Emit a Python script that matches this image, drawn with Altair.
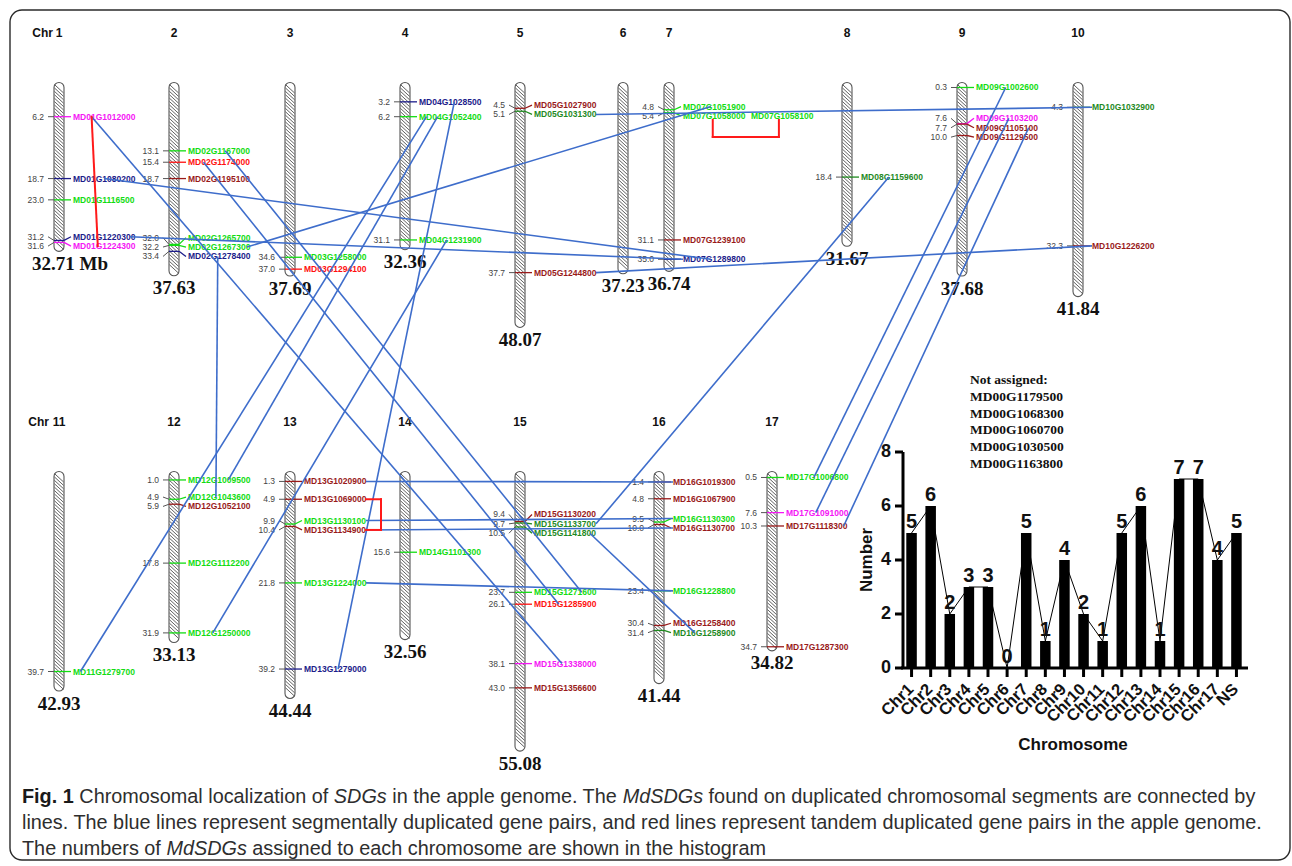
import altair as alt
import numpy as np
import pandas as pd

# ---------------- data ----------------
chrom_num = list(range(1, 18))
chrom_len = [32.71, 37.63, 37.69, 32.36, 48.07, 37.23, 36.74, 31.67, 37.68, 41.84,
             42.93, 33.13, 44.44, 32.56, 55.08, 41.44, 34.82]

gene_chr = [1, 1, 1, 1, 1,
            2, 2, 2, 2, 2, 2,
            3, 3,
            4, 4, 4,
            5, 5, 5,
            7, 7, 7, 7, 7,
            8,
            9, 9, 9, 9,
            10, 10,
            11,
            12, 12, 12, 12, 12,
            13, 13, 13, 13, 13, 13,
            14,
            15, 15, 15, 15, 15, 15, 15,
            16, 16, 16, 16, 16, 16, 16,
            17, 17, 17, 17]
gene_mb = [6.2, 18.7, 23.0, 31.2, 31.6,
           13.1, 15.4, 18.7, 32.0, 32.2, 33.4,
           34.6, 37.0,
           3.2, 6.2, 31.1,
           4.5, 5.1, 37.7,
           4.8, 5.4, 5.4, 31.1, 35.0,
           18.4,
           0.3, 7.6, 7.7, 10.0,
           4.3, 32.3,
           39.7,
           1.0, 4.9, 5.9, 17.8, 31.9,
           1.3, 4.9, 9.9, 10.4, 21.8, 39.2,
           15.6,
           9.4, 9.7, 10.5, 23.7, 26.1, 38.1, 43.0,
           1.4, 4.8, 9.5, 10.0, 23.4, 30.4, 31.4,
           0.5, 7.6, 10.3, 34.7]
gene_id = ["MD01G1012000", "MD01G1080200", "MD01G1116500", "MD01G1220300", "MD01G1224300",
           "MD02G1167000", "MD02G1174000", "MD02G1195100", "MD02G1265700", "MD02G1267300", "MD02G1278400",
           "MD03G1258000", "MD03G1294100",
           "MD04G1028500", "MD04G1052400", "MD04G1231900",
           "MD05G1027900", "MD05G1031300", "MD05G1244800",
           "MD07G1051900", "MD07G1058000", "MD07G1058100", "MD07G1239100", "MD07G1289800",
           "MD08G1159600",
           "MD09G1002600", "MD09G1103200", "MD09G1105100", "MD09G1129500",
           "MD10G1032900", "MD10G1226200",
           "MD11G1279700",
           "MD12G1009500", "MD12G1043600", "MD12G1052100", "MD12G1112200", "MD12G1250000",
           "MD13G1020900", "MD13G1069000", "MD13G1130100", "MD13G1134900", "MD13G1224000", "MD13G1279000",
           "MD14G1101300",
           "MD15G1130200", "MD15G1133700", "MD15G1141800", "MD15G1271600", "MD15G1285900", "MD15G1338000", "MD15G1356600",
           "MD16G1019300", "MD16G1067900", "MD16G1130300", "MD16G1130700", "MD16G1228800", "MD16G1258400", "MD16G1258900",
           "MD17G1006800", "MD17G1091000", "MD17G1118300", "MD17G1287300"]
gene_group = ["m", "n", "g", "n", "m",
              "g", "r", "dr", "g", "g", "n",
              "g", "r",
              "n", "g", "g",
              "dr", "dg", "dr",
              "g", "g", "g", "dr", "n",
              "dg",
              "g", "m", "dr", "dr",
              "dg", "dr",
              "g",
              "g", "g", "dr", "g", "g",
              "dr", "dr", "g", "dr", "g", "n",
              "g",
              "dr", "dg", "dg", "g", "r", "m", "dr",
              "dr", "dr", "g", "dr", "g", "dr", "dg",
              "g", "m", "dr", "dr"]

# segmental duplication pairs (blue) and tandem pairs (red)
seg_a = ["MD01G1012000", "MD01G1080200", "MD01G1220300", "MD02G1267300", "MD05G1031300",
         "MD05G1244800", "MD04G1028500", "MD04G1052400", "MD04G1052400", "MD04G1231900",
         "MD02G1278400", "MD02G1174000", "MD02G1167000", "MD13G1020900", "MD13G1130100",
         "MD13G1134900", "MD13G1224000", "MD15G1133700", "MD15G1141800", "MD09G1002600",
         "MD09G1103200", "MD09G1105100"]
seg_b = ["MD15G1338000", "MD07G1289800", "MD07G1289800", "MD07G1051900", "MD10G1032900",
         "MD10G1226200", "MD13G1279000", "MD11G1279700", "MD12G1009500", "MD12G1250000",
         "MD12G1043600", "MD15G1285900", "MD15G1271600", "MD16G1019300", "MD16G1130300",
         "MD16G1130700", "MD16G1228800", "MD08G1159600", "MD16G1258900", "MD17G1006800",
         "MD17G1091000", "MD17G1118300"]
tandem_a = ["MD01G1012000", "MD07G1058000", "MD13G1069000"]
tandem_b = ["MD01G1224300", "MD07G1058100", "MD13G1134900"]

hist_cat = ["Chr1", "Chr2", "Chr3", "Chr4", "Chr5", "Chr6", "Chr7", "Chr8", "Chr9",
            "Chr10", "Chr11", "Chr12", "Chr13", "Chr14", "Chr15", "Chr16", "Chr17", "NS"]
hist_count = [5, 6, 2, 3, 3, 0, 5, 1, 4, 2, 1, 5, 6, 1, 7, 7, 4, 5]
unassigned_title = "Not assigned:"
unassigned = ["MD00G1179500", "MD00G1068300", "MD00G1060700", "MD00G1030500", "MD00G1163800"]

# caption: (text, style) runs per line
caption_lines = [
    [("Fig. 1", "b"), (" Chromosomal localization of ", "n"), ("SDGs", "i"),
     (" in the apple genome. The ", "n"), ("MdSDGs", "i"),
     (" found on duplicated chromosomal segments are connected by", "n")],
    [("lines. The blue lines represent segmentally duplicated gene pairs, and red lines represent "
      "tandem duplicated gene pairs in the apple genome.", "n")],
    [("The numbers of ", "n"), ("MdSDGs", "i"), (" assigned to each chromosome are shown in the histogram", "n")],
]

# ---------------- layout / style ----------------
W, H = 1292, 866
col_x = [59, 174, 290, 405, 520, 623, 669, 847, 962, 1078, 59, 174, 290, 405, 520, 659, 772]
PXMB = 4.95
ROW1_PX, ROW2_PX = 86, 475


def py(p):
    return (p - ROW1_PX) / PXMB


def dpx(d):
    return d / PXMB


row_off = [0.0 if c <= 10 else py(ROW2_PX) for c in chrom_num]
seg_frac_a = [0.3, 0.5, 0.92, 0.95, 1.0, 1.0, 0.57, 0.12, 0.3, 0.45, 0.48, 0.25, 0.6,
              1.0, 1.0, 1.0, 1.0, 1.0, 0.9, 0.48, 0.53, 0.85]
seg_frac_b = [0.45, 0.45, 0.0, 0.45, 0.0, 0.0, 0.55, 0.12, 0.65, 0.4, 0.45, 0.4, 0.77,
              0.0, 0.0, 0.0, 0.0, 0.45, 0.35, 0.45, 0.48, 0.93]
tandem_style = ["line", "below", "right"]
LABEL_W = 62
SLOT_W = 68
GAP = 1.9

col = {
    "g": "#12dc12", "dg": "#1f8a1f", "r": "#ff1010", "dr": "#991a1a",
    "n": "#1c1c8a", "m": "#f516f5",
}
BLUE = "#3e6dcb"
RED = "#ff1a1a"
SANS = "Liberation Sans"
SERIF = "Liberation Serif"

XS = alt.Scale(domain=[0, W], nice=False, zero=False)
YS = alt.Scale(domain=[py(0), py(H)], reverse=True, nice=False, zero=False)


def X(f):
    return alt.X(f, type="quantitative", scale=XS, axis=None)


def Y(f):
    return alt.Y(f, type="quantitative", scale=YS, axis=None)


# Arial / Liberation Sans advance widths (1/1000 em) for caption run placement
_w = {" ": 278, ".": 278, ",": 278, ":": 278, "-": 333}
_w.update({d: 556 for d in "0123456789"})
_w.update(dict(zip("abcdefghijklmnopqrstuvwxyz",
                   [556, 556, 500, 556, 556, 278, 556, 556, 222, 222, 500, 222, 833, 556, 556, 556, 556,
                    333, 500, 278, 556, 500, 722, 500, 500, 500])))
_w.update(dict(zip("ABCDEFGHIJKLMNOPQRSTUVWXYZ",
                   [667, 667, 722, 722, 667, 611, 778, 722, 278, 500, 667, 556, 833, 722, 778, 667, 778,
                    722, 667, 611, 722, 667, 944, 667, 667, 611])))
_wb = dict(_w)
_wb.update({"g": 611, "i": 278})


def em(s, bold=False):
    t = _wb if bold else _w
    return sum(t.get(ch_, 556) for ch_ in s) / 1000.0


CAP_X0, CAP_X1 = 22, 1262
CAP_Y = [797, 823, 849]
CAP_SIZE = (CAP_X1 - CAP_X0) / em(caption_lines[1][0][0])

cap_rows = []
for line, yy in zip(caption_lines, CAP_Y):
    xx = CAP_X0
    for txt, st in line:
        lead = len(txt) - len(txt.lstrip(" "))
        xx += em(" " * lead) * CAP_SIZE
        body = txt.strip(" ")
        cap_rows.append({"t": body, "x": xx, "y": py(yy), "style": st})
        xx += em(body, st == "b") * CAP_SIZE
        trail = len(txt) - len(txt.rstrip(" "))
        xx += em(" " * trail) * CAP_SIZE
cap = pd.DataFrame(cap_rows)

# ---------------- gene table with label placement ----------------
g = pd.DataFrame({"chr": gene_chr, "mb": gene_mb, "name": gene_id, "grp": gene_group})
g["cx"] = [col_x[c - 1] for c in g["chr"]]
g["off"] = [row_off[c - 1] for c in g["chr"]]
g["y"] = g["off"] + g["mb"]


def place(cl):
    m = np.mean(cl)
    n = len(cl)
    return [m + (i - (n - 1) / 2) * GAP for i in range(n)]


label_mb = {}
for c in chrom_num:
    rows = sorted(set(g.loc[g["chr"] == c, "mb"]))
    clusters = []
    for p in rows:
        clusters.append([p])
        while len(clusters) > 1:
            a, b = clusters[-2], clusters[-1]
            if place(a)[-1] + GAP > place(b)[0]:
                clusters[-2:] = [a + b]
            else:
                break
    for cl in clusters:
        for p, lp in zip(cl, place(cl)):
            label_mb[(c, p)] = lp

g["ly"] = [row_off[c - 1] + label_mb[(c, m)] for c, m in zip(g["chr"], g["mb"])]
slot = []
for i in range(len(g)):
    if i > 0 and g.loc[i, "chr"] == g.loc[i - 1, "chr"] and g.loc[i, "mb"] == g.loc[i - 1, "mb"]:
        slot.append(slot[-1] + 1)
    else:
        slot.append(0)
g["slot"] = slot
g["lx"] = g["cx"] + 14 + g["slot"] * SLOT_W
g["num"] = [f"{v:.1f}" for v in g["mb"]]
g0 = g[g["slot"] == 0].copy()
g0["nx"] = g0["cx"] - 15
g0["a1"] = g0["cx"] - 11
g0["a2"] = g0["cx"] - 5
g0["b1"] = g0["cx"] + 5
g0["b2"] = g0["cx"] + 12
gi = g.set_index("name")

# ---------------- chromosome bodies ----------------
ch = pd.DataFrame({"c": chrom_num, "L": chrom_len, "cx": col_x, "off": row_off})
ch["x0"] = ch["cx"] - 5
ch["x1"] = ch["cx"] + 5
ch["top"] = ch["off"] - dpx(3.5)
ch["bot"] = ch["off"] + ch["L"] + dpx(3.5)
ch["lab"] = [f"{L:.2f}" + (" Mb" if c == 1 else "") for c, L in zip(ch["c"], ch["L"])]
ch["labx"] = ch["cx"] + np.where(ch["c"] == 1, 11, 0)
ch["laby"] = ch["off"] + ch["L"] + dpx(16)
ch["num"] = [str(c) for c in ch["c"]]
ch["hy"] = ch["off"] + py(33)
hdr = ch[ch["c"].isin([1, 11])].copy()
hdr["hx"] = hdr["cx"] - np.where(hdr["c"] == 1, 6, 10)
hdr["t"] = "Chr"

hatch_rows = []
for c, L, cx, off in zip(chrom_num, chrom_len, col_x, row_off):
    for t in np.arange(-0.3, L - dpx(8) + 0.4, dpx(3.4)):
        hatch_rows.append({"x1": cx - 4.6, "x2": cx + 4.6, "y1": off + t, "y2": off + t + dpx(8.5)})
hatch = pd.DataFrame(hatch_rows)

# ---------------- links ----------------
links = []
for a, b, fa, fb in zip(seg_a, seg_b, seg_frac_a, seg_frac_b):
    ra, rb = gi.loc[a], gi.loc[b]
    links.append({"x1": ra["lx"] + fa * LABEL_W, "y1": ra["ly"], "x2": rb["lx"] + fb * LABEL_W, "y2": rb["ly"]})
links = pd.DataFrame(links)

tsegs = []
for a, b, s in zip(tandem_a, tandem_b, tandem_style):
    ra, rb = gi.loc[a], gi.loc[b]
    if s == "line":
        tsegs.append((ra["lx"] + 0.3 * LABEL_W, ra["ly"], rb["lx"] + 0.4 * LABEL_W, rb["ly"]))
    elif s == "below":
        xa, xb = ra["lx"] + 0.48 * LABEL_W, rb["lx"] + 0.45 * LABEL_W
        y1, y2 = ra["ly"] + dpx(4), ra["ly"] + dpx(21)
        tsegs += [(xa, y1, xa, y2), (xa, y2, xb, y2), (xb, y2, xb, y1)]
    else:
        xa, xb = ra["lx"] + LABEL_W, rb["lx"] + LABEL_W
        xr = xa + 15
        tsegs += [(xa, ra["ly"], xr, ra["ly"]), (xr, ra["ly"], xr, rb["ly"]), (xr, rb["ly"], xb, rb["ly"])]
tsegs = pd.DataFrame(tsegs, columns=["x1", "y1", "x2", "y2"])

gcolor = alt.Color("grp:N", scale=alt.Scale(domain=list(col.keys()), range=list(col.values())), legend=None)

layers = []
# border
layers.append(alt.Chart(pd.DataFrame({"x1": [10], "x2": [1290], "y1": [py(10)], "y2": [py(860)]}))
              .mark_rect(fillOpacity=0, stroke="#2a2a2a", strokeWidth=1.4, cornerRadius=12)
              .encode(x=X("x1"), x2="x2", y=Y("y1"), y2="y2"))
# chromosomes
layers.append(alt.Chart(ch).mark_rect(fill="white", cornerRadius=5)
              .encode(x=X("x0"), x2="x1", y=Y("top"), y2="bot"))
layers.append(alt.Chart(hatch).mark_rule(color="#3a3a3a", strokeWidth=0.8)
              .encode(x=X("x1"), x2="x2", y=Y("y1"), y2="y2"))
layers.append(alt.Chart(ch).mark_rect(fillOpacity=0, stroke="#555555", strokeWidth=1.1, cornerRadius=5)
              .encode(x=X("x0"), x2="x1", y=Y("top"), y2="bot"))
# headers and lengths
layers.append(alt.Chart(ch).mark_text(font=SANS, fontWeight="bold", fontSize=12, color="#111", baseline="middle")
              .encode(x=X("cx"), y=Y("hy"), text="num:N"))
layers.append(alt.Chart(hdr).mark_text(font=SANS, fontWeight="bold", fontSize=12, color="#111", align="right", baseline="middle")
              .encode(x=X("hx"), y=Y("hy"), text="t:N"))
layers.append(alt.Chart(ch).mark_text(font=SERIF, fontWeight="bold", fontSize=19, color="#111", baseline="middle")
              .encode(x=X("labx"), y=Y("laby"), text="lab:N"))
# gene ticks and labels
layers.append(alt.Chart(g0).mark_rule(color="#555555", strokeWidth=1)
              .encode(x=X("a1"), x2="a2", y=Y("ly"), y2="y"))
layers.append(alt.Chart(g0).mark_rule(strokeWidth=1.3)
              .encode(x=X("a2"), x2="b1", y=Y("y"), y2="y", color=gcolor))
layers.append(alt.Chart(g0).mark_rule(strokeWidth=1.3)
              .encode(x=X("b1"), x2="b2", y=Y("y"), y2="ly", color=gcolor))
layers.append(alt.Chart(g0).mark_text(font=SANS, fontSize=8.5, color="#444", align="right", baseline="middle")
              .encode(x=X("nx"), y=Y("ly"), text="num:N"))
layers.append(alt.Chart(g).mark_text(font=SANS, fontWeight="bold", fontSize=8.5, align="left", baseline="middle")
              .encode(x=X("lx"), y=Y("ly"), text="name:N", color=gcolor))
# links
layers.append(alt.Chart(links).mark_rule(color=BLUE, strokeWidth=1.6)
              .encode(x=X("x1"), x2="x2", y=Y("y1"), y2="y2"))
layers.append(alt.Chart(tsegs).mark_rule(color=RED, strokeWidth=2, strokeCap="square")
              .encode(x=X("x1"), x2="x2", y=Y("y1"), y2="y2"))
# not assigned block
na = pd.DataFrame({"t": [unassigned_title] + unassigned,
                   "x": [970] * 6,
                   "y": [py(380 + 16.8 * i) for i in range(6)]})
layers.append(alt.Chart(na).mark_text(font=SERIF, fontWeight="bold", fontSize=13.5, color="#111", align="left", baseline="middle")
              .encode(x=X("x"), y=Y("y"), text="t:N"))
# inset titles
tt = pd.DataFrame({"t": ["Number"], "x": [867], "y": [py(560)]})
layers.append(alt.Chart(tt).mark_text(font=SANS, fontWeight="bold", fontSize=17, angle=270, color="#111", baseline="middle")
              .encode(x=X("x"), y=Y("y"), text="t:N"))
tt2 = pd.DataFrame({"t": ["Chromosome"], "x": [1073], "y": [py(745)]})
layers.append(alt.Chart(tt2).mark_text(font=SANS, fontWeight="bold", fontSize=17, color="#111", baseline="middle")
              .encode(x=X("x"), y=Y("y"), text="t:N"))

# caption
for st, kw in [("b", dict(fontWeight="bold", color="#1a1a1a")), ("n", dict(color="#2e2e2e")),
               ("i", dict(fontStyle="italic", color="#2e2e2e"))]:
    layers.append(alt.Chart(cap[cap["style"] == st]).mark_text(font=SANS, fontSize=CAP_SIZE, align="left", baseline="middle", **kw)
                  .encode(x=X("x"), y=Y("y"), text="t:N"))

main = alt.layer(*layers)

# ---------------- inset histogram ----------------
hist = pd.DataFrame({"cat": hist_cat, "count": hist_count})
XB = alt.Scale(domain=hist_cat, range=[902, 1246], paddingInner=0.45, paddingOuter=0.225)
YB = alt.Scale(domain=[0, 8], range=[668, 452], nice=False, zero=False)


def XC(f="cat"):
    return alt.X(f"{f}:N", sort=hist_cat, scale=XB, axis=None)


def YC(f):
    return alt.Y(f"{f}:Q", scale=YB, axis=None)


ax = pd.DataFrame({"lo": [0], "hi": [8]})
yt = pd.DataFrame({"v": [0, 2, 4, 6, 8]})
hz = hist.assign(z=0)
inset = alt.layer(
    alt.Chart(hist).mark_bar(color="black").encode(x=XC(), y=YC("count")),
    alt.Chart(hist).mark_line(color="black", strokeWidth=1).encode(x=XC(), y=YC("count")),
    alt.Chart(hist).mark_text(font=SANS, fontWeight="bold", fontSize=20, baseline="bottom", dy=-1, color="#111")
    .encode(x=XC(), y=YC("count"), text="count:Q"),
    alt.Chart(ax).mark_rule(color="black", strokeWidth=3).encode(x=alt.value(903), y=YC("lo"), y2="hi"),
    alt.Chart(ax).mark_rule(color="black", strokeWidth=3).encode(x=alt.value(901), x2=alt.value(1248), y=YC("lo")),
    alt.Chart(yt).mark_rule(color="black", strokeWidth=3).encode(x=alt.value(895), x2=alt.value(903), y=YC("v")),
    alt.Chart(yt).mark_text(font=SANS, fontWeight="bold", fontSize=18, align="right", baseline="middle", color="#111")
    .encode(x=alt.value(891), y=YC("v"), text="v:Q"),
    alt.Chart(hz).mark_rule(color="black", strokeWidth=3).encode(x=XC(), y=YC("z"), y2=alt.value(677)),
    alt.Chart(hist).mark_text(font=SANS, fontWeight="bold", fontSize=16.5, angle=315, align="right", baseline="middle",
                              dx=-1, color="#111")
    .encode(x=XC(), y=alt.value(686), text="cat:N"),
)

chart = (alt.layer(main, inset)
         .resolve_scale(x="independent", y="independent")
         .properties(width=W, height=H, padding=0, autosize="none", background="white")
         .configure_view(stroke=None))

chart.save("out.html", embed_options={"renderer": "svg", "actions": False})
